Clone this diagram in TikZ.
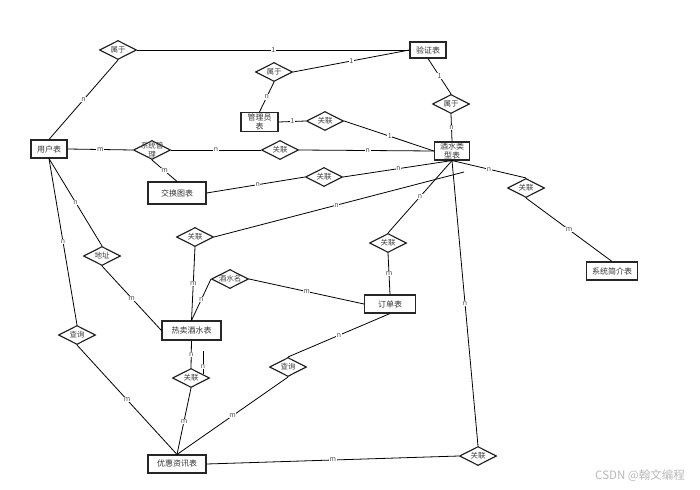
\documentclass[tikz,border=0pt]{standalone}
\usepackage{fontspec}
\newfontfamily\cjk{Noto Sans CJK SC}
\usetikzlibrary{shapes.geometric,calc}
\tikzset{
  ent/.style={draw=black!85, line width=1.1pt, fill=white, inner sep=0pt,
    font=\cjk\fontsize{8}{8.6}\selectfont, text=black!80, align=center},
  rel/.style={draw=black!90, line width=1.1pt, fill=white, diamond, inner sep=0pt,
    minimum width=37pt, minimum height=19pt},
  every label/.style={font=\cjk\fontsize{7.5}{8}\selectfont, text=black!75, align=center, inner sep=0pt},
  con/.style={draw=black, line width=0.8pt},
  lab/.style={fill=white, inner sep=0.6pt, font=\cjk\fontsize{7}{7}\selectfont, text=black!70}
}
\begin{document}
\begin{tikzpicture}[x=1pt,y=-1pt]
\useasboundingbox (0,0) rectangle (700,489);
% entities
\node[ent, minimum width=36pt, minimum height=16pt] (yz) at (428,50) {验证表};
\node[ent, minimum width=37pt, minimum height=19pt] (gly) at (259.5,122) {管理员\\表};
\node[ent, minimum width=35pt, minimum height=18pt] (jslx) at (452,151) {酒水类\\型表};
\node[ent, minimum width=36pt, minimum height=18pt] (yh) at (49,149) {用户表};
\node[ent, minimum width=58pt, minimum height=22pt] (jht) at (177,193) {交换图表};
\node[ent, minimum width=51pt, minimum height=18pt] (xtjj) at (612,271) {系统简介表};
\node[ent, minimum width=51pt, minimum height=18pt] (dd) at (390,304) {订单表};
\node[ent, minimum width=59pt, minimum height=19pt] (rm) at (191.5,330.5) {热卖酒水表};
\node[ent, minimum width=58pt, minimum height=18pt] (yhzx) at (177,464) {优惠资讯表};
% relations
\node[rel, label=center:属于] (s1) at (118,50) {};
\node[rel, label=center:属于] (s2) at (274,72) {};
\node[rel, label=center:属于] (s3) at (451,104) {};
\node[rel, label=center:关联] (g1) at (325,121) {};
\node[rel, label={[font=\cjk\fontsize{7.5}{8.5}\selectfont]center:系统管\\理}] (xtgl) at (152,150) {};
\node[rel, label=center:关联] (g2) at (280,150) {};
\node[rel, label=center:关联] (g3) at (324,177) {};
\node[rel, label=center:关联] (g4) at (526,188) {};
\node[rel, label=center:关联] (g5) at (195,237) {};
\node[rel, label=center:地址] (dz) at (102,256) {};
\node[rel, label=center:酒水名] (jsm) at (230,279) {};
\node[rel, label=center:关联] (g6) at (388,243) {};
\node[rel, label=center:关联] (g7) at (191,378) {};
\node[rel, label=center:查询] (cx1) at (288,367) {};
\node[rel, label=center:查询] (cx2) at (77,335) {};
\node[rel, label=center:关联] (g8) at (478,456) {};
\coordinate (fe) at (464,172);
\coordinate (g7r) at ($(g7.north)!0.63!(g7.east)$);
\coordinate (dn) at ($(g7r)+(0,-23.5)$);
% connectors
\draw[con] (yh.north) -- (s1.south) node[lab,pos=0.5]{n};
\draw[con] (s1.east) -- (yz.west) node[lab,pos=0.5]{1};
\draw[con] (s2.east) -- (yz.west) node[lab,pos=0.5]{1};
\draw[con] (s2.south) -- (gly.north) node[lab,pos=0.5]{n};
\draw[con] (yz.south) -- (s3.north) node[lab,pos=0.5]{1};
\draw[con] (s3.south) -- (jslx.north) node[lab,pos=0.5]{n};
\draw[con] (gly.east) -- (g1.west) node[lab,pos=0.5]{1};
\draw[con] (g1.east) -- (jslx.west) node[lab,pos=0.51]{1};
\draw[con] (yh.east) -- (xtgl.west) node[lab,pos=0.5]{m};
\draw[con] (xtgl.east) -- (g2.west) node[lab,pos=0.5]{n};
\draw[con] (g2.east) -- (jslx.west) node[lab,pos=0.51]{n};
\draw[con] (xtgl.south) -- (jht.north) node[lab,pos=0.5]{m};
\draw[con] (jht.east) -- (g3.west) node[lab,pos=0.52]{n};
\draw[con] (g3.east) -- (jslx.south) node[lab,pos=0.51]{n};
\draw[con] (g5.east) -- (fe) node[lab,pos=0.49]{n};
\draw[con] (jslx.south) -- (g6.north) node[lab,pos=0.5]{n};
\draw[con] (jslx.south) -- (g8.north) node[lab,pos=0.5]{n};
\draw[con] (jslx.south) -- (g4.north) node[lab,pos=0.5]{n};
\draw[con] (g4.south) -- (xtjj.north) node[lab,pos=0.5]{m};
\draw[con] (g6.south) -- (dd.north) node[lab,pos=0.5]{m};
\draw[con] (yh.south) -- (dz.north) node[lab,pos=0.5]{n};
\draw[con] (dz.south) -- (rm.west) node[lab,pos=0.5]{m};
\draw[con] (yh.south) -- (cx2.north) node[lab,pos=0.5]{n};
\draw[con] (cx2.south) -- (yhzx.north) node[lab,pos=0.5]{m};
\draw[con] (g5.south) -- (rm.north) node[lab,pos=0.5]{m};
\draw[con] (rm.north) -- (jsm.west) node[lab,pos=0.5]{n};
\draw[con] (jsm.east) -- (dd.west) node[lab,pos=0.5]{m};
\draw[con] (rm.south) -- (g7.north) node[lab,pos=0.5]{n};
\draw[con] (dn) -- (g7r) node[lab,pos=0.68]{n};
\draw[con] (g7.south) -- (yhzx.north) node[lab,pos=0.5]{m};
\draw[con] (cx1.south) -- (yhzx.north) node[lab,pos=0.5]{m};
\draw[con] (cx1.north) -- (dd.south) node[lab,pos=0.5]{n};
\draw[con] (yhzx.east) -- (g8.west) node[lab,pos=0.5]{m};
\node[font=\cjk\fontsize{11.5}{12}\selectfont, text=black!28] (wm) at (640,476) {CSDN @翰文编程};
\end{tikzpicture}
\end{document}
